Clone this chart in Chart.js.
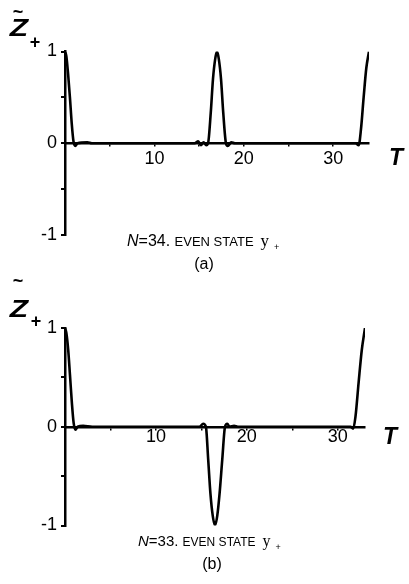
<!DOCTYPE html>
<html>
<head>
<meta charset="utf-8">
<script src="https://cdn.jsdelivr.net/npm/chart.js@4/dist/chart.umd.min.js"></script>
<style>
  html,body{margin:0;padding:0;background:#fff;}
  body{width:409px;height:584px;position:relative;overflow:hidden;}
  canvas{position:absolute;left:0;}
</style>
</head>
<body>
<canvas id="cA" width="409" height="276" style="top:0px"></canvas>
<canvas id="cB" width="409" height="308" style="top:276px"></canvas>
<script>
// ---- Data ----
// Panel (a): N = 34
const tA = [0, 0.15, 0.35, 0.55, 0.75, 0.95, 1.15, 1.4, 2.5, 3, 5, 10, 14.5, 14.9, 15.2, 15.5, 15.8,
            16.0, 16.3, 16.55, 16.8, 17.0, 17.2, 17.45, 17.7, 18.0, 18.2, 18.6, 19.0, 25, 32.5, 32.85,
            33.1, 33.4, 33.7, 34];
const zA = [1, 0.95, 0.75, 0.5, 0.22, 0.02, -0.03, 0, 0.01, 0, 0, 0, 0, 0.02, -0.02, 0.01, -0.02,
            0, 0.33, 0.7, 0.92, 1, 0.92, 0.7, 0.33, 0, -0.03, 0.01, 0, 0, 0, -0.02,
            0.15, 0.5, 0.82, 1];
// Panel (b): N = 33
const tB = [0, 0.15, 0.35, 0.55, 0.75, 0.95, 1.15, 1.4, 2, 3, 10, 14.8, 15.2, 15.5, 15.75, 16.0,
            16.25, 16.5, 16.75, 17.0, 17.3, 17.6, 17.85, 18.1, 18.6, 19, 25, 31.4, 31.7, 31.95,
            32.3, 32.65, 33];
const zB = [1, 0.95, 0.78, 0.52, 0.25, 0.04, -0.03, 0, 0.01, 0, 0, 0, 0.03, 0, -0.33, -0.68,
            -0.9, -1, -0.9, -0.68, -0.33, 0, 0.03, 0, 0.01, 0, 0, 0, -0.02, 0.1,
            0.45, 0.78, 1];
const xTicksLabelled = [10, 20, 30];
const yTicksLabelled = [-1, 0, 1];
const maxA = 34, maxB = 33;

const SANS = '"Liberation Sans", Arial, Helvetica, sans-serif';
const SERIF = '"Liberation Serif", "Times New Roman", serif';

function drawRuns(ctx, x, y, runs) {
  ctx.textBaseline = 'alphabetic';
  ctx.textAlign = 'left';
  let cx = x;
  for (const r of runs) {
    cx += r.gap || 0;
    ctx.font = r.f;
    ctx.fillText(r.t, cx, y + (r.dy || 0));
    cx += ctx.measureText(r.t).width;
  }
}

function labelPlugin(cfg) {
  return {
    id: 'labels_' + cfg.id,
    afterDraw(chart) {
      const ctx = chart.ctx;
      const xs = chart.scales.x, ys = chart.scales.y;
      ctx.save();
      ctx.fillStyle = '#000';
      // Z label (bold italic, widened)
      ctx.save();
      ctx.translate(cfg.zx, cfg.zy);
      ctx.scale(1.25, 1);
      ctx.font = 'italic bold 24px ' + SANS;
      ctx.textAlign = 'center';
      ctx.textBaseline = 'middle';
      ctx.fillText('Z', 0, 0);
      ctx.restore();
      // tilde
      ctx.font = 'bold 18px ' + SANS;
      ctx.textAlign = 'center';
      ctx.textBaseline = 'middle';
      ctx.fillText('~', cfg.tx, cfg.ty);
      // subscript +
      ctx.font = 'bold 18px ' + SANS;
      ctx.fillText('+', cfg.px, cfg.py);
      // T axis label
      ctx.font = 'italic bold 23px ' + SANS;
      ctx.fillText('T', xs.right + cfg.Tdx, ys.getPixelForValue(0) + cfg.Tdy);
      // caption
      drawRuns(ctx, cfg.capX, cfg.capY, [
        {t: 'N', f: 'italic ' + cfg.capSize + 'px ' + SANS},
        {t: '=' + cfg.n + '. ', f: cfg.capSize + 'px ' + SANS},
        {t: 'EVEN STATE', f: (cfg.capSize - 3) + 'px ' + SANS},
        {t: 'y', f: (cfg.capSize + 1) + 'px ' + SERIF, gap: 7},
        {t: '+', f: '9px ' + SANS, gap: 5, dy: 4}
      ]);
      ctx.font = '16px ' + SANS;
      ctx.textAlign = 'center';
      ctx.textBaseline = 'alphabetic';
      ctx.fillText(cfg.sub, cfg.subX, cfg.subY);
      ctx.restore();
    }
  };
}

function makeChart(id, t, z, xMax, pad, xPad, lab) {
  const pts = t.map((v, i) => ({x: v, y: z[i]}));
  return new Chart(document.getElementById(id), {
    type: 'line',
    data: {
      datasets: [{
        data: pts,
        borderColor: '#000',
        borderWidth: 2.6,
        pointRadius: 0,
        fill: false,
        cubicInterpolationMode: 'monotone'
      }]
    },
    options: {
      responsive: false,
      animation: false,
      devicePixelRatio: 1,
      layout: {padding: pad},
      plugins: {legend: {display: false}, tooltip: {enabled: false}},
      scales: {
        x: {
          type: 'linear', min: 0, max: xMax, position: {y: 0},
          border: {display: true, color: '#000', width: 2.5},
          grid: {display: true, drawOnChartArea: false, drawTicks: true, tickLength: 2, color: '#000', lineWidth: 1.5},
          ticks: {
            stepSize: 5, includeBounds: false, autoSkip: false, maxRotation: 0, padding: xPad, color: '#000',
            font: {family: SANS, size: 18},
            callback: v => xTicksLabelled.includes(v) ? String(v) : ''
          }
        },
        y: {
          type: 'linear', min: -1, max: 1,
          afterFit: s => { s.width = 65; },
          border: {display: true, color: '#000', width: 2.5},
          grid: {display: true, drawOnChartArea: false, drawTicks: true, tickLength: 4, color: '#000', lineWidth: 2},
          ticks: {
            stepSize: 0.5, padding: 4, color: '#000',
            font: {family: SANS, size: 18},
            callback: v => yTicksLabelled.includes(v) ? String(v) : ''
          }
        }
      }
    },
    plugins: [labelPlugin(lab)]
  });
}

makeChart('cA', tA, zA, maxA, {top: 51.5, bottom: 41, left: 0, right: 40}, 3, {
  id: 'a', zx: 19, zy: 29, tx: 18, ty: 13, px: 35, py: 43, Tdx: 27, Tdy: 15,
  capX: 127, capY: 246, capSize: 16, n: 34, sub: '(a)', subX: 204, subY: 269
});
makeChart('cB', tB, zB, maxB, {top: 52, bottom: 58.5, left: 0, right: 44}, -3, {
  id: 'b', zx: 19, zy: 34, tx: 18, ty: 6, px: 36, py: 46, Tdx: 25, Tdy: 11,
  capX: 138, capY: 270, capSize: 15, n: 33, sub: '(b)', subX: 212, subY: 293
});
</script>
</body>
</html>
